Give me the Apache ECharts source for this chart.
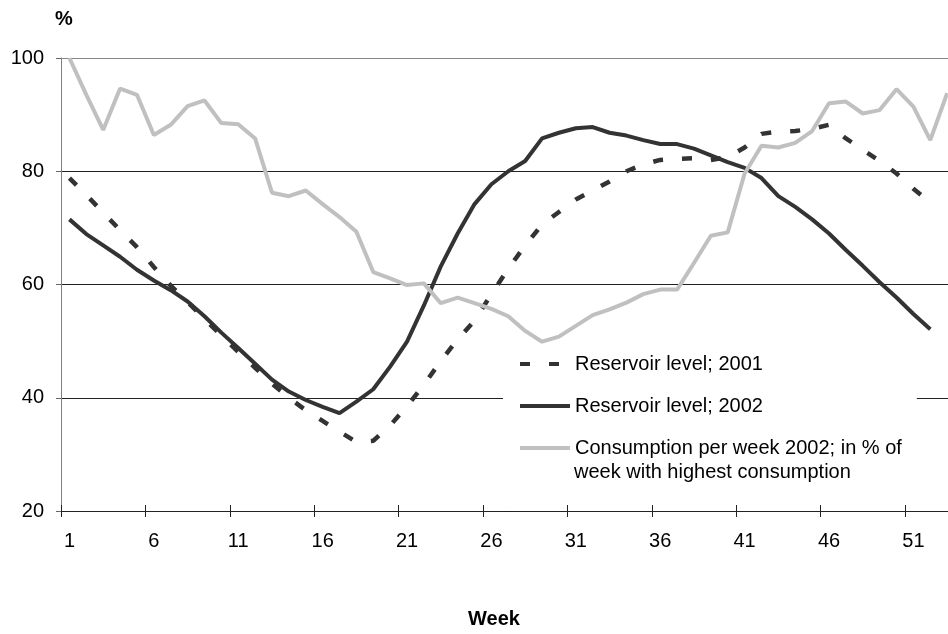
<!DOCTYPE html>
<html><head><meta charset="utf-8">
<script src="https://cdn.jsdelivr.net/npm/echarts@6/dist/echarts.min.js"></script>
<style>html,body{margin:0;padding:0;background:#fff;overflow:hidden}#c{width:948px;height:634px}</style>
</head><body><div id="c"></div>
<script>
const weeks = [1,2,3,4,5,6,7,8,9,10,11,12,13,14,15,16,17,18,19,20,21,22,23,24,25,26,27,28,29,30,31,32,33,34,35,36,37,38,39,40,41,42,43,44,45,46,47,48,49,50,51,52,53];
const yTicks = [20, 40, 60, 80, 100];
const level2001 = [78.8,75.8,72.7,69.6,66.6,63.1,59.8,56.9,53.9,51.0,48.1,45.3,42.5,40.0,37.8,35.9,34.0,32.2,32.4,35.1,38.5,42.3,46.5,50.3,53.6,58.3,62.8,66.9,70.6,72.8,75.0,76.6,78.2,80.0,81.2,82.0,82.2,82.3,82.0,82.5,84.2,86.6,87.0,87.1,87.5,88.2,85.8,83.8,81.8,79.6,76.9,74.5];
const level2002 = [71.5,68.9,66.9,64.9,62.6,60.7,59.0,57.0,54.4,51.5,48.8,46.0,43.2,41.1,39.6,38.4,37.3,39.3,41.5,45.5,49.9,56.3,63.2,69.0,74.2,77.7,80.0,81.8,85.8,86.8,87.6,87.8,86.8,86.3,85.5,84.8,84.8,84.0,82.8,81.6,80.6,78.8,75.6,73.7,71.5,69.0,66.1,63.3,60.4,57.7,54.8,52.1];
const consumption2002 = [100,93.5,87.3,94.6,93.5,86.4,88.2,91.5,92.5,88.5,88.3,85.8,76.2,75.6,76.6,74.2,71.9,69.3,62.2,61.1,59.9,60.2,56.7,57.7,56.7,55.7,54.4,51.8,49.9,50.8,52.7,54.6,55.6,56.8,58.3,59.1,59.1,63.8,68.6,69.2,79.6,84.5,84.2,85.0,87.1,92.0,92.3,90.2,90.8,94.5,91.4,85.5,93.8];
const seriesNames = ['Reservoir level; 2001', 'Reservoir level; 2002', 'Consumption per week 2002; in % of week with highest consumption'];
const legendLine1 = ['Reservoir level; 2001', 'Reservoir level; 2002', 'Consumption per week 2002; in % of'];
const legendLine2 = 'week with highest consumption';

const FONT = '"Liberation Sans", Arial, sans-serif';
const chart = echarts.init(document.getElementById('c'), null, {renderer: 'canvas'});
chart.setOption({
  animation: false,
  backgroundColor: '#fff',
  textStyle: {fontFamily: FONT, color: '#000'},
  title: [
    {text: '%', left: 55, top: 9, padding: 0, textStyle: {fontFamily: FONT, fontSize: 20, fontWeight: 'bold', color: '#000'}},
    {text: 'Week', left: 468, top: 609, padding: 0, textStyle: {fontFamily: FONT, fontSize: 20, fontWeight: 'bold', color: '#000'}},
    {text: legendLine2, left: 574, top: 460, padding: 0, z: 10, textStyle: {fontFamily: FONT, fontSize: 20, fontWeight: 'normal', lineHeight: 24, color: '#000'}}
  ],
  grid: {left: 61, top: 58, width: 894.6, height: 453, containLabel: false, outerBoundsMode: 'none'},
  legend: {
    orient: 'vertical',
    left: 503, top: 347,
    padding: [5, 15, 30, 15],
    backgroundColor: '#fff',
    itemWidth: 50, itemHeight: 14, itemGap: 18,
    selectedMode: false,
    itemStyle: {opacity: 0},
    lineStyle: {width: 4},
    textStyle: {fontFamily: FONT, fontSize: 20, lineHeight: 24, color: '#000'},
    formatter: function (name) { return legendLine1[seriesNames.indexOf(name)]; },
    data: seriesNames
  },
  xAxis: [{
    type: 'category', data: weeks, boundaryGap: true, position: 'bottom',
    axisLine: {show: true, lineStyle: {color: '#222', width: 1}},
    axisTick: {show: true, interval: 4, length: 6, lineStyle: {color: '#222'}},
    axisLabel: {interval: 4, margin: 20, fontSize: 20, fontFamily: FONT, color: '#000'},
    splitLine: {show: false}
  }, {
    type: 'category', data: weeks, boundaryGap: true, position: 'bottom', gridIndex: 0,
    axisLine: {show: false},
    axisTick: {show: true, inside: true, interval: 4, length: 6, lineStyle: {color: '#222'}},
    axisLabel: {show: false},
    splitLine: {show: false}
  }],
  yAxis: {
    type: 'value', min: yTicks[0], max: yTicks[yTicks.length - 1], interval: 20,
    axisLine: {show: true, lineStyle: {color: '#808080', width: 1}},
    axisTick: {show: true, length: 5, lineStyle: {color: '#666'}},
    axisLabel: {margin: 17, fontSize: 20, fontFamily: FONT, color: '#000'},
    splitLine: {show: true, lineStyle: {color: ['#000', '#222', '#222', '#222', '#888'], width: 1}}
  },
  series: [
    {name: seriesNames[0], type: 'line', data: level2001, symbol: 'none', smooth: false, z: 2,
     lineStyle: {color: '#333333', width: 4.5, type: [10, 19]}, itemStyle: {color: '#333333'}},
    {name: seriesNames[1], type: 'line', data: level2002, symbol: 'none', smooth: false, z: 3,
     lineStyle: {color: '#333333', width: 4}, itemStyle: {color: '#333333'}},
    {name: seriesNames[2], type: 'line', data: consumption2002, symbol: 'none', smooth: false, z: 4,
     lineStyle: {color: '#c0c0c0', width: 4}, itemStyle: {color: '#c0c0c0'}}
  ]
});
</script></body></html>
